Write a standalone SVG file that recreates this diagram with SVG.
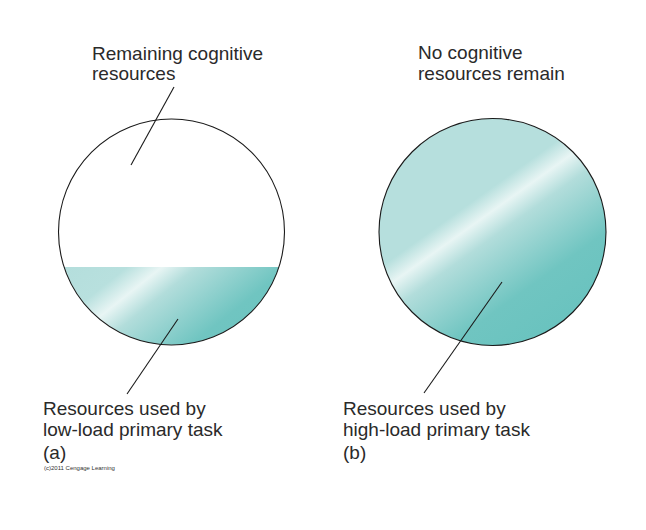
<svg xmlns="http://www.w3.org/2000/svg" width="646" height="530" viewBox="0 0 646 530">
<style>
.t{font-family:"Liberation Sans",Arial,Helvetica,sans-serif;font-size:19px;fill:#2a2a2a}
.s{font-family:"Liberation Sans",Arial,sans-serif;font-size:6px;fill:#333}
.ln{stroke:#1a1a1a;stroke-width:1.1;fill:none}
.ol{stroke:#1a1a1a;stroke-width:1.1}
</style>
<defs>
<linearGradient id="gA" gradientUnits="userSpaceOnUse" x1="100" y1="189" x2="243" y2="368">
<stop offset="0" stop-color="#b0dcda"/>
<stop offset="0.34" stop-color="#b8e0de"/>
<stop offset="0.435" stop-color="#e8f5f4"/>
<stop offset="0.53" stop-color="#b2dddb"/>
<stop offset="0.78" stop-color="#70c5c1"/>
<stop offset="1" stop-color="#6ac3bf"/>
</linearGradient>
<linearGradient id="gB" gradientUnits="userSpaceOnUse" x1="422" y1="139" x2="555" y2="325">
<stop offset="0" stop-color="#b6dfdd"/>
<stop offset="0.35" stop-color="#b6dfdd"/>
<stop offset="0.435" stop-color="#e8f5f4"/>
<stop offset="0.53" stop-color="#b2dddb"/>
<stop offset="0.8" stop-color="#70c5c1"/>
<stop offset="1" stop-color="#6ac3bf"/>
</linearGradient>
</defs>
<g id="nodeA">
<path d="M64.1 267 L278.9 267 A113 113 0 0 1 64.1 267 Z" fill="url(#gA)"/>
<circle cx="171.5" cy="232" r="113" class="ol" fill="none"/>
</g>
<g id="nodeB">
<circle cx="492.5" cy="232" r="113.5" class="ol" fill="url(#gB)"/>
</g>
<g id="connectors">
<line x1="174" y1="87" x2="131" y2="165" class="ln"/>
<line x1="178" y1="319" x2="127" y2="394" class="ln"/>
<line x1="502" y1="282" x2="424" y2="393" class="ln"/>
</g>
<g id="labels">
<text class="t" x="92" y="60">Remaining cognitive</text>
<text class="t" x="92" y="80">resources</text>
<text class="t" x="418" y="59">No cognitive</text>
<text class="t" x="418" y="80">resources remain</text>
<text class="t" x="43" y="415">Resources used by</text>
<text class="t" x="43" y="436">low-load primary task</text>
<text class="t" x="43" y="459">(a)</text>
<text class="s" x="44" y="470">(c)2011 Cengage Learning</text>
<text class="t" x="343" y="415">Resources used by</text>
<text class="t" x="343" y="436">high-load primary task</text>
<text class="t" x="343" y="459">(b)</text>
</g>
</svg>
